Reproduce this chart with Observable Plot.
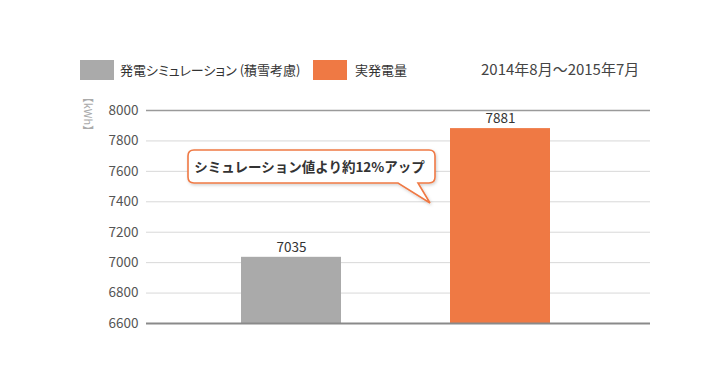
<!DOCTYPE html>
<html><head><meta charset="utf-8">
<script src="https://cdn.jsdelivr.net/npm/d3@7"></script>
<script src="https://cdn.jsdelivr.net/npm/@observablehq/plot@0.6"></script>
<style>
html,body{margin:0;padding:0;background:#fff;}
#wrap{position:relative;width:726px;height:390px;font-family:"Noto Sans CJK JP","Noto Sans",sans-serif;}
.lg{position:absolute;font-size:13px;color:#333;line-height:20px;white-space:nowrap;font-feature-settings:"palt";}
.sw{position:absolute;width:34px;height:20px;}
</style></head>
<body><div id="wrap"></div>
<script>
const categories = ["発電シミュレーション (積雪考慮)", "実発電量"];
const values = [7035, 7881];
const colors = ["#aaaaaa", "#ef7944"];
const yTicks = [6600, 6800, 7000, 7200, 7400, 7600, 7800, 8000];
const unitLabel = "【kWh】";
const periodLabel = "2014年8月〜2015年7月";
const calloutText = "シミュレーション値より約12%アップ";

const data = categories.map((c, i) => ({cat: c, value: values[i], color: colors[i]}));

const plot = Plot.plot({
  width: 726, height: 390,
  marginTop: 110, marginBottom: 67, marginLeft: 146, marginRight: 76,
  style: {fontFamily: '"Noto Sans CJK JP","Noto Sans",sans-serif', background: "transparent"},
  x: {domain: categories, paddingInner: 0.523, paddingOuter: 0.465, align: 0.488, axis: null},
  y: {domain: [6600, 8000], ticks: yTicks},
  marks: [
    Plot.ruleY(yTicks.filter(t => t !== 6600 && t !== 8000), {stroke: "#d8d8d8", strokeWidth: 1}),
    Plot.ruleY([8000], {stroke: "#9a9a9a", strokeWidth: 1.5}),
    Plot.barY(data, {x: "cat", y1: () => 6600, y2: "value", fill: "color"}),
    Plot.ruleY([6600], {stroke: "#8a8a8a", strokeWidth: 2}),
    Plot.text(data, {x: "cat", y: "value", text: d => String(d.value), dy: -10, fontSize: 13.5, fill: "#333"}),
    Plot.axisY({ticks: yTicks, tickSize: 0, tickPadding: 8, fontSize: 13.5, color: "#555", label: null, tickFormat: d => String(d)})
  ]
});
plot.style.position = "absolute";
plot.style.left = "0px";
plot.style.top = "0px";
const wrap = document.getElementById("wrap");
wrap.appendChild(plot);

const svg = d3.select(plot);
svg.append("text")
  .attr("transform", "translate(84,114) rotate(90)")
  .attr("text-anchor", "middle")
  .attr("font-size", 11)
  .attr("fill", "#aaa")
  .text(unitLabel);

// callout
const defs = svg.append("defs");
const f = defs.append("filter").attr("id", "sh").attr("x", "-10%").attr("y", "-20%").attr("width", "130%").attr("height", "160%");
f.append("feDropShadow").attr("dx", 1).attr("dy", 1.5).attr("stdDeviation", 1.5).attr("flood-color", "#000").attr("flood-opacity", 0.18);
const xs = plot.scale("x");
const tipX = xs.apply(categories[1]) - 20;
const tipY = 203;
const bx = 188, by = 150, bw = 247, bh = 33, r = 6;
const path = `M${bx + r},${by} H${bx + bw - r} Q${bx + bw},${by} ${bx + bw},${by + r} V${by + bh - r} Q${bx + bw},${by + bh} ${bx + bw - r},${by + bh} H${bx + bw - 17} L${tipX},${tipY} L${bx + bw - 37},${by + bh} H${bx + r} Q${bx},${by + bh} ${bx},${by + bh - r} V${by + r} Q${bx},${by} ${bx + r},${by} Z`;
svg.append("path").attr("d", path).attr("fill", "#fff").attr("stroke", "#ef7944").attr("stroke-width", 1.6).attr("filter", "url(#sh)");
svg.append("text").attr("x", bx + bw / 2 - 2).attr("y", by + bh / 2 + 5).attr("text-anchor", "middle")
  .attr("font-size", 13.5).attr("font-weight", "bold").attr("fill", "#333").text(calloutText);

// legend
function add(txt, cls, left, top, extra) {
  const el = document.createElement("div");
  el.className = cls;
  el.style.left = left + "px";
  el.style.top = top + "px";
  if (extra) Object.assign(el.style, extra);
  el.textContent = txt;
  wrap.appendChild(el);
}
add("", "sw", 80, 60, {background: colors[0]});
add(categories[0], "lg", 120, 60);
add("", "sw", 313, 60, {background: colors[1]});
add(categories[1], "lg", 355, 60);
add(periodLabel, "lg", 481, 59, {fontSize: "15px", color: "#444", fontFeatureSettings: "normal"});
</script></body></html>
